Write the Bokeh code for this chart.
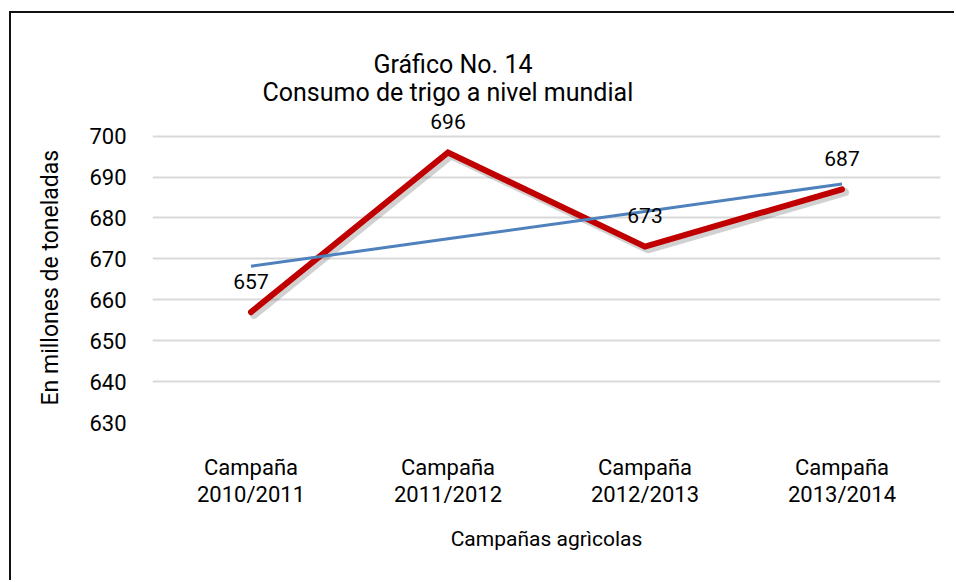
import numpy as np
from bokeh.plotting import figure
from bokeh.models import ColumnDataSource, LabelSet, Title, Range1d, FixedTicker
from bokeh.core.properties import value
from bokeh.transform import dodge
from bokeh.embed import file_html
from bokeh.resources import INLINE

# ---- data ----
categories = ["Campaña\n2010/2011", "Campaña\n2011/2012", "Campaña\n2012/2013", "Campaña\n2013/2014"]
consumo = [657, 696, 673, 687]
y_ticks = [630, 640, 650, 660, 670, 680, 690, 700]

title_line1 = "Gráfico No. 14"
title_line2 = "Consumo de trigo a nivel mundial"
y_label = "En millones de toneladas"
x_label = "Campañas agrìcolas"

# linear trend (Excel-style linear trendline)
xi = np.arange(1, len(consumo) + 1)
slope, intercept = np.polyfit(xi, consumo, 1)
tendencia = list(slope * xi + intercept)

FONT = "Roboto"

src = ColumnDataSource(dict(
    x=categories,
    y=consumo,
    y_shadow=[v - 0.7 for v in consumo],
    trend=tendencia,
    lbl=[str(v) for v in consumo],
))

# y range extends a little above the top gridline (700) so the data label
# of the highest point is not clipped by the plot frame
p = figure(
    x_range=categories,
    y_range=Range1d(630, 707),
    width=945, height=569,
    output_backend="svg",
    toolbar_location=None,
    min_border_left=141, min_border_right=16,
    min_border_top=94, min_border_bottom=160,
)
p.styles = {"border-top": "2px solid #111111", "border-left": "2px solid #111111",
            "margin-left": "9px", "margin-top": "11px"}
p.x_range.range_padding = 0
p.outline_line_color = None
p.background_fill_color = "white"
p.border_fill_color = "white"

# grid
p.xgrid.grid_line_color = None
p.ygrid.grid_line_color = "#D9D9D9"
p.ygrid.grid_line_width = 2
p.yaxis.ticker = FixedTicker(ticks=y_ticks)

# axes
for ax in (p.xaxis, p.yaxis):
    ax.axis_line_color = None
    ax.major_tick_line_color = None
    ax.minor_tick_line_color = None
    ax.major_label_text_font = FONT
    ax.major_label_text_font_size = "22px"
    ax.major_label_text_color = "#000000"
    ax.axis_label_text_font = FONT
    ax.axis_label_text_font_style = "normal"
    ax.axis_label_text_color = "#000000"

p.yaxis.major_label_standoff = 20

# y axis title as a left-side Title so it is centred on the 630-700 band
p.add_layout(Title(text=y_label, align="left", offset=17,
                   text_font=FONT, text_font_size="23px", text_font_style="normal",
                   text_color="#000000", standoff=45), "left")

p.xaxis.major_label_standoff = 26
p.xaxis.major_label_text_line_height = 1.1
p.xaxis.axis_label = x_label
p.xaxis.axis_label_text_font_size = "21px"
p.xaxis.axis_label_standoff = 17

# title (two lines; second one added first sits closest to the plot)
p.add_layout(Title(text=title_line2, align="left", offset=110,
                   text_font=FONT, text_font_size="25px", text_font_style="normal",
                   text_color="#000000", standoff=1), "above")
p.add_layout(Title(text=title_line1, align="left", offset=221,
                   text_font=FONT, text_font_size="25px", text_font_style="normal",
                   text_color="#000000", standoff=-6), "above")

# lines
p.line(x=dodge("x", 0.015, range=p.x_range), y="y_shadow", source=src,
       line_color="#000000", line_alpha=0.18, line_width=8, line_cap="round")
p.line(x="x", y="y", source=src, line_color="#C00000", line_width=6,
       line_cap="round", line_join="miter")
p.line(x="x", y="trend", source=src, line_color="#4F81BD", line_width=3)

labels = LabelSet(x="x", y="y", text="lbl", source=src, y_offset=31,
                  text_align="center", text_baseline="middle",
                  text_font=value(FONT), text_font_size=value("21px"), text_color="#000000")
p.add_layout(labels)

open("out.html", "w").write(file_html(p, INLINE))
